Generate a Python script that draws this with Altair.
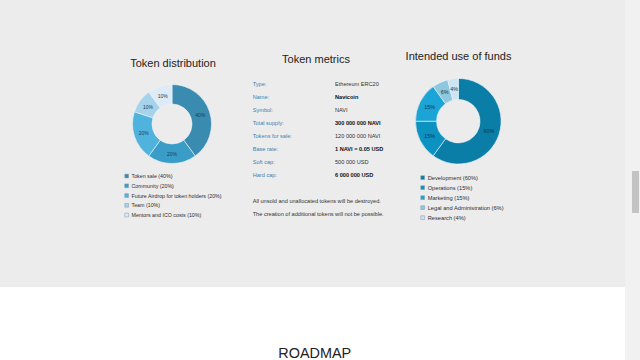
import altair as alt
import pandas as pd

# ---------------- data ----------------
dist_names = ["Token sale", "Community", "Future Airdrop for token holders", "Team", "Mentors and ICO costs"]
dist_values = [40, 20, 20, 10, 10]
dist_colors = ["#3a8bb0", "#3a9dc7", "#50b3de", "#a7d3ea", "#dcebf5"]

funds_names = ["Development", "Operations", "Marketing", "Legal and Administration", "Research"]
funds_values = [60, 15, 15, 6, 4]
funds_colors = ["#0b7ea8", "#0b92c0", "#1ba4d6", "#8ec8df", "#cbe6f2"]

metric_names = ["Type:", "Name:", "Symbol:", "Total supply:", "Tokens for sale:", "Base rate:", "Soft cap:", "Hard cap:"]
metric_values = ["Ethereum ERC20", "Navicoin", "NAVI", "300 000 000 NAVI", "120 000 000 NAVI",
                 "1 NAVI = 0.05 USD", "500 000 USD", "6 000 000 USD"]
metric_bold = [False, True, False, True, False, True, False, True]

notes = ["All unsold and unallocated tokens will be destroyed.",
         "The creation of additional tokens will not be possible."]

titles = ["Token distribution", "Token metrics", "Intended use of funds"]
section_title = "ROADMAP"

FONT = "Liberation Sans"


def donut_frame(names, values):
    df = pd.DataFrame({"name": names, "value": values, "order": list(range(len(names)))})
    df["legend"] = [f"{n} ({v}%)" for n, v in zip(names, values)]
    df["pct"] = [f"{v}%" for v in values]
    return df


dist_df = donut_frame(dist_names, dist_values)
funds_df = donut_frame(funds_names, funds_values)
met_df = pd.DataFrame({"name": metric_names, "value": metric_values,
                       "bold": metric_bold, "row": list(range(len(metric_names)))})
notes_df = pd.DataFrame({"text": notes, "row": list(range(len(notes)))})
one = pd.DataFrame({"a": [0]})

# ---------------- page background ----------------
bg = alt.Chart(one).mark_rect(color="#ececec").encode(
    x=alt.value(0), x2=alt.value(625), y=alt.value(0), y2=alt.value(287))
track = alt.Chart(one).mark_rect(color="#f1f1f1").encode(
    x=alt.value(625), x2=alt.value(640), y=alt.value(0), y2=alt.value(360))
thumb = alt.Chart(one).mark_rect(color="#c3c3c3").encode(
    x=alt.value(632), x2=alt.value(639), y=alt.value(171), y2=alt.value(213))

theta_scale = alt.Scale(domain=[0, 100])


def donut(df, colors, cx, cy, r_in, r_out, lx, ly, lfs, lpad, txt_fs, txt_color):
    arcs = alt.Chart(df).mark_arc(innerRadius=r_in, outerRadius=r_out,
                                  stroke="#eef4f8", strokeWidth=0.6).encode(
        theta=alt.Theta("value:Q", stack=True, scale=theta_scale),
        color=alt.Color("legend:N",
                        scale=alt.Scale(domain=list(df["legend"]), range=colors),
                        legend=alt.Legend(orient="none", legendX=lx, legendY=ly, title=None,
                                          symbolType="square", symbolSize=14,
                                          symbolStrokeColor="#7f98a6", symbolStrokeWidth=0.5,
                                          labelFont=FONT, labelFontSize=lfs, labelColor="#2e2e2e",
                                          labelOffset=2.2, rowPadding=lpad, padding=0,
                                          labelLimit=300)),
        order=alt.Order("order:Q"),
        x=alt.value(cx), y=alt.value(cy),
    )
    labels = alt.Chart(df).mark_text(radius=(r_in + r_out) / 2, fontSize=txt_fs, font=FONT,
                                     color=txt_color).encode(
        theta=alt.Theta("value:Q", stack=True, scale=theta_scale),
        text="pct:N",
        order=alt.Order("order:Q"),
        x=alt.value(cx), y=alt.value(cy),
    )
    return arcs, labels


d1_arcs, d1_text = donut(dist_df, dist_colors, 172, 124, 20, 39.5, 124, 173.4, 5.3, 2.75, 5, "#1c3e55")
d2_arcs, d2_text = donut(funds_df, funds_colors, 458.3, 121.2, 21.7, 42.8, 419.8, 174.8, 5.7, 3.0, 5.4, "#0d3550")

# ---------------- titles ----------------
def title_text(txt, x, y, size=11):
    return alt.Chart(one).mark_text(font=FONT, fontSize=size, color="#222222",
                                    align="center", baseline="alphabetic").encode(
        x=alt.value(x), y=alt.value(y), text=alt.value(txt))


t1 = title_text(titles[0], 173, 66.5)
t2 = title_text(titles[1], 316, 63.3)
t3 = title_text(titles[2], 458.5, 60)
t4 = title_text(section_title, 314.7, 357.5, 14.4)

# ---------------- metrics table ----------------
row_scale = alt.Scale(domain=[0, 7], range=[84.3, 175.3])
m_names = alt.Chart(met_df).mark_text(align="left", baseline="middle", font=FONT, fontSize=5.6,
                                      color="#3b82b3").encode(
    x=alt.value(252.7), y=alt.Y("row:Q", scale=row_scale, axis=None), text="name:N")
m_vals = alt.Chart(met_df).transform_filter("!datum.bold").mark_text(
    align="left", baseline="middle", font=FONT, fontSize=5.6, color="#333333").encode(
    x=alt.value(335), y=alt.Y("row:Q", scale=row_scale, axis=None), text="value:N")
m_vals_b = alt.Chart(met_df).transform_filter("datum.bold").mark_text(
    align="left", baseline="middle", font=FONT, fontSize=5.6, fontWeight="bold",
    color="#111111").encode(
    x=alt.value(335), y=alt.Y("row:Q", scale=row_scale, axis=None), text="value:N")
n_text = alt.Chart(notes_df).mark_text(align="left", baseline="middle", font=FONT, fontSize=5.6,
                                       color="#333333").encode(
    x=alt.value(252.7), y=alt.Y("row:Q", scale=alt.Scale(domain=[0, 1], range=[201, 214]), axis=None),
    text="text:N")

chart = alt.layer(
    bg, track, thumb,
    d1_arcs, d1_text, d2_arcs, d2_text,
    t1, t2, t3, t4,
    m_names, m_vals, m_vals_b, n_text,
).resolve_scale(
    color="independent", theta="independent", y="independent"
).properties(
    width=640, height=360, padding=0, autosize="none", background="white"
).configure_view(stroke=None)

chart.save("out.html", embed_options={"renderer": "svg", "actions": False})
